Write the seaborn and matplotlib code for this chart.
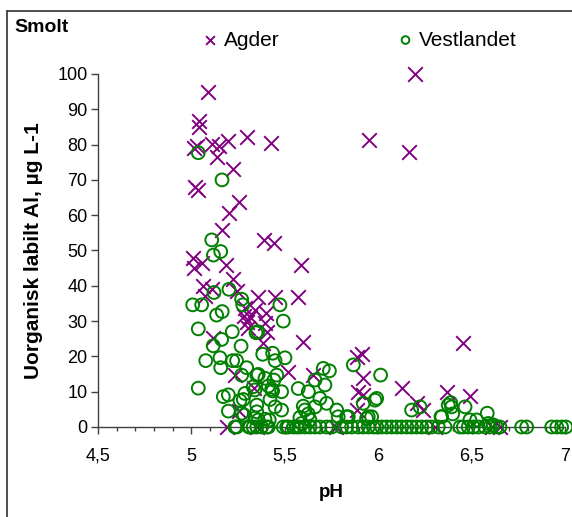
import matplotlib
matplotlib.use("Agg")
import matplotlib.pyplot as plt
from matplotlib.lines import Line2D
from matplotlib.ticker import MultipleLocator, FuncFormatter
import seaborn as sns
import pandas as pd

# Agder (purple crosses)
agder_ph = [5.087, 5.042, 5.039, 5.014, 5.032, 5.109, 5.149, 5.198, 5.296, 5.137,
            5.224, 5.021, 5.034, 5.255, 5.203, 5.164, 5.390, 5.444, 5.010, 5.016,
            5.055, 5.184, 5.588, 5.221, 5.064, 5.109, 5.075, 5.242, 5.358, 5.448,
            5.572, 5.287, 5.340, 5.399, 5.296, 5.394, 5.305, 5.403, 5.385, 5.599,
            5.117, 5.519, 5.653, 5.233, 5.335, 5.256, 5.189, 5.350, 5.426, 5.951,
            6.197, 6.165, 5.885, 5.912, 5.920, 5.893, 5.920, 5.885, 6.126, 6.206,
            6.242, 6.366, 6.452, 6.491, 5.772, 6.304, 6.608, 6.652, 5.280, 5.314]
agder_al = [95.0, 86.8, 85.1, 79.1, 79.6, 80.2, 79.7, 81.0, 82.2, 76.6,
            73.0, 68.1, 67.1, 63.7, 60.7, 55.8, 53.0, 52.2, 47.8, 45.0,
            46.5, 45.8, 45.8, 41.8, 39.9, 39.0, 37.0, 38.6, 36.9, 36.9,
            36.9, 33.6, 33.1, 32.2, 29.8, 29.5, 28.0, 27.0, 23.7, 24.2,
            25.1, 15.7, 14.7, 14.7, 11.0, 4.6, 0.0, 0.0, 80.5, 81.3,
            100.0, 77.9, 19.9, 20.7, 13.8, 10.0, 9.1, 4.8, 11.0, 6.7,
            4.8, 10.0, 23.9, 8.9, 0.0, 0.0, 0.0, 0.0, 31.4, 31.2]

# Vestlandet (green open circles)
vest_ph = [5.037, 5.164, 5.109, 5.118, 5.157, 5.007, 5.055, 5.037, 5.037, 5.121,
           5.135, 5.165, 5.201, 5.269, 5.275, 5.162, 5.117, 5.219, 5.266, 5.077,
           5.153, 5.157, 5.221, 5.242, 5.296, 5.269, 5.350, 5.171, 5.198, 5.287,
           5.260, 5.278, 5.340, 5.350, 5.198, 5.269, 5.282, 5.350, 5.474, 5.492,
           5.355, 5.346, 5.382, 5.435, 5.448, 5.501, 5.358, 5.394, 5.442, 5.457,
           5.331, 5.412, 5.430, 5.435, 5.483, 5.572, 5.421, 5.448, 5.483, 5.340,
           5.358, 5.394, 5.417, 5.706, 5.739, 5.662, 5.715, 5.626, 5.688, 5.724,
           5.599, 5.608, 5.662, 5.778, 5.786, 5.831, 5.581, 5.635, 5.590, 5.626,
           5.867, 6.013, 5.992, 5.983, 5.920, 5.947, 5.965, 5.938, 5.840, 6.179,
           6.224, 6.340, 6.375, 6.388, 6.393, 6.399, 6.465, 6.336, 6.491, 6.527,
           6.584, 6.589, 6.616,
           5.233, 5.243, 5.308, 5.314, 5.331, 5.350, 5.376, 5.403, 5.412, 5.492,
           5.510, 5.519, 5.546, 5.564, 5.581, 5.608, 5.635, 5.662, 5.688, 5.724,
           5.751, 5.805, 5.831, 5.858, 5.893, 5.920, 5.947, 5.974, 5.992, 6.019,
           6.045, 6.072, 6.099, 6.126, 6.153, 6.179, 6.206, 6.233, 6.260, 6.286,
           6.322, 6.358, 6.438, 6.456, 6.482, 6.509, 6.536, 6.572, 6.598, 6.634,
           6.652, 6.768, 6.795, 6.929, 6.956, 6.982, 7.005]
vest_al = [77.7, 70.0, 53.0, 48.7, 49.7, 34.6, 34.6, 27.8, 11.0, 38.1,
           31.7, 32.7, 39.0, 36.2, 34.6, 24.8, 23.0, 27.0, 22.9, 18.8,
           19.6, 16.8, 18.8, 18.8, 16.8, 14.7, 14.7, 8.6, 9.1, 9.5,
           7.5, 7.8, 10.5, 6.2, 4.5, 3.9, 3.4, 4.3, 34.6, 30.0,
           27.0, 26.7, 20.6, 20.9, 18.8, 19.6, 14.9, 13.8, 13.3, 14.7,
           11.4, 11.6, 10.7, 10.2, 10.0, 10.9, 7.8, 5.7, 4.8, 2.5,
           2.0, 2.2, 2.0, 16.6, 15.9, 13.3, 11.9, 10.0, 8.1, 6.7,
           5.9, 4.8, 5.7, 4.8, 2.9, 2.9, 2.7, 2.0, 1.0, 3.7,
           17.6, 14.7, 8.1, 7.6, 6.7, 2.9, 2.9, 2.4, 2.9, 4.8,
           5.7, 2.9, 6.2, 6.9, 5.7, 3.7, 5.7, 2.9, 2.0, 2.0,
           3.9, 1.0, 0.6] + [0.0] * 57

x_ticks = [4.5, 5.0, 5.5, 6.0, 6.5, 7.0]
y_ticks = list(range(0, 101, 10))

sns.set_theme(style="white")
plt.rcParams['font.family'] = ['Liberation Sans', 'DejaVu Sans']
plt.rcParams['text.color'] = 'black'
plt.rcParams['axes.labelcolor'] = 'black'
plt.rcParams['xtick.color'] = 'black'
plt.rcParams['ytick.color'] = 'black'

agder = pd.DataFrame({'pH': agder_ph, 'Al': agder_al})
vest = pd.DataFrame({'pH': vest_ph, 'Al': vest_al})

fig = plt.figure(figsize=(5.72, 5.17), dpi=100)
ax = fig.add_axes([0.1713, 0.1741, 0.8164, 0.6828])

sns.scatterplot(data=agder, x='pH', y='Al', marker='x', s=110, color='#800080',
                linewidth=1.4, ax=ax, label='Agder', clip_on=False, zorder=3)
sns.scatterplot(data=vest, x='pH', y='Al', marker='o', s=85, color='#008000',
                linewidth=1.4, ax=ax, label='Vestlandet', clip_on=False, zorder=4)
circles = ax.collections[-1]
circles.set_facecolor('none')
circles.set_edgecolor('#008000')

ax.set_xlim(4.5, 7.0)
ax.set_ylim(0, 100)
ax.set_xticks(x_ticks)
ax.xaxis.set_minor_locator(MultipleLocator(0.1))
ax.set_yticks(y_ticks)
ax.xaxis.set_major_formatter(FuncFormatter(lambda v, p: f"{v:g}".replace('.', ',')))

for side in ['top', 'right']:
    ax.spines[side].set_visible(False)
for side in ['left', 'bottom']:
    ax.spines[side].set_color('#404040')
    ax.spines[side].set_linewidth(1.0)
ax.tick_params(axis='both', which='major', direction='out', length=5, width=1,
               color='#404040', labelsize=13, pad=2.5, bottom=True, left=True)
ax.tick_params(axis='x', which='minor', direction='out', length=3, width=1,
               color='#404040', bottom=True)
ax.tick_params(axis='x', which='major', pad=10)

ax.set_xlabel('pH', fontsize=13.5, fontweight='bold', labelpad=14)
ax.set_ylabel('Uorganisk labilt Al, µg L-1', fontsize=15, fontweight='bold', labelpad=10)

leg = ax.legend(ncol=2, loc='center left', bbox_to_anchor=(203 / 572, 1 - 40 / 517),
                bbox_transform=fig.transFigure, frameon=False, fontsize=15,
                handlelength=0.7, handletextpad=0.3, columnspacing=5.7,
                borderpad=0, borderaxespad=0, markerscale=0.6)

fig.text(14 / 572, 1 - 28 / 517, 'Smolt', fontsize=14, fontweight='bold',
         ha='left', va='center')

# outer chart frame
fig.add_artist(Line2D([7 / 572, 7 / 572], [0, 1 - 11 / 517], transform=fig.transFigure,
                      color='#303030', linewidth=1.2))
fig.add_artist(Line2D([7 / 572, 1], [1 - 11 / 517, 1 - 11 / 517], transform=fig.transFigure,
                      color='#303030', linewidth=1.2))

fig.savefig('out.png', dpi=100)
